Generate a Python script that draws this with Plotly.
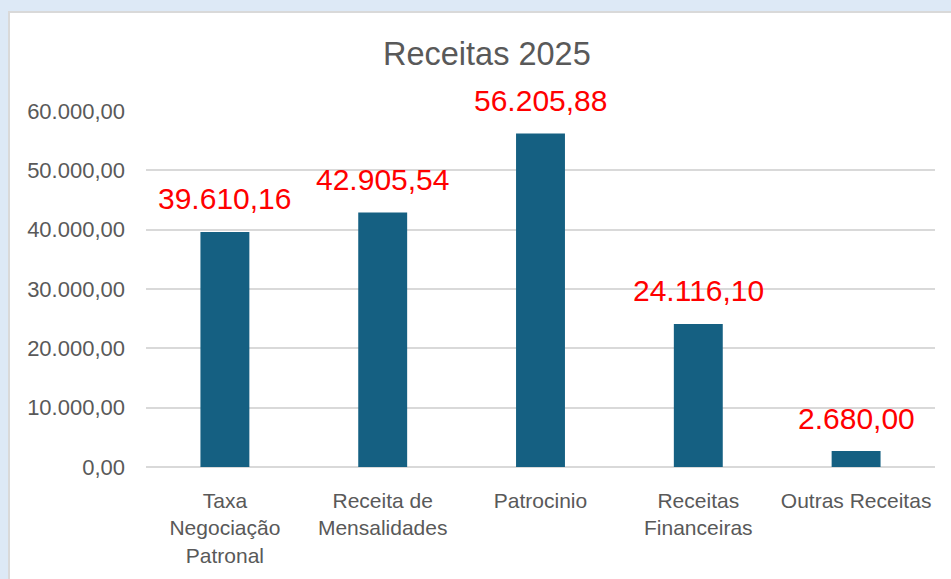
import plotly.graph_objects as go

categories = ["Taxa<br>Negociação<br>Patronal", "Receita de<br>Mensalidades", "Patrocinio",
              "Receitas<br>Financeiras", "Outras Receitas"]
values = [39610.16, 42905.54, 56205.88, 24116.10, 2680.00]
tick_vals = [0, 10000, 20000, 30000, 40000, 50000, 60000]
title_text = "Receitas 2025"


def br(v):
    s = f"{v:,.2f}"
    return s.replace(",", "X").replace(".", ",").replace("X", ".")


W, H = 951, 579
L, R, T, B = 146, 16, 111, 112
pw, ph = W - L - R, H - T - B


def px_x(p):
    return (p - L) / pw


def px_y(p):
    return (H - B - p) / ph


fig = go.Figure(go.Bar(
    x=categories, y=values, marker=dict(color="#156082", line=dict(width=0)),
    hoverinfo="skip",
))

for c, v in zip(categories, values):
    fig.add_annotation(x=c, y=v, xref="x", yref="y", text=br(v), showarrow=False,
                       yanchor="middle", yshift=33,
                       font=dict(family="Liberation Sans", size=30, color="#ff0000"))

fig.add_annotation(x=px_x(486.5), y=px_y(54.5), xref="paper", yref="paper", text=title_text,
                   showarrow=False, xanchor="center", yanchor="middle",
                   font=dict(family="Liberation Sans", size=32.5, color="#595959"))

fig.add_shape(type="rect", xref="paper", yref="paper", layer="below",
              x0=px_x(9), x1=px_x(960), y0=px_y(590), y1=px_y(12),
              fillcolor="white", line=dict(color="#d9d9d9", width=2))

fig.update_layout(
    width=W, height=H, margin=dict(l=L, r=R, t=T, b=B),
    paper_bgcolor="#dde9f6", plot_bgcolor="rgba(0,0,0,0)",
    separators=",.", bargap=0.69, showlegend=False,
    xaxis=dict(tickfont=dict(family="Liberation Sans", size=21, color="#595959"),
               showgrid=False, showline=False, ticks="", ticklabelstandoff=19),
    yaxis=dict(range=[0, 60000], tickvals=tick_vals, tickformat=",.2f",
               tickfont=dict(family="Liberation Sans", size=22, color="#595959"),
               gridcolor="#d9d9d9", gridwidth=1.5, zeroline=True, zerolinecolor="#d9d9d9",
               zerolinewidth=2, showline=False, ticks="", ticklabelstandoff=20),
)

fig.write_html("out.html", config={"displayModeBar": False}, post_script=(
    "document.body.style.margin='0';document.body.style.padding='0';"
    "document.body.style.background='#dde9f6';document.body.style.overflow='hidden';"
))
